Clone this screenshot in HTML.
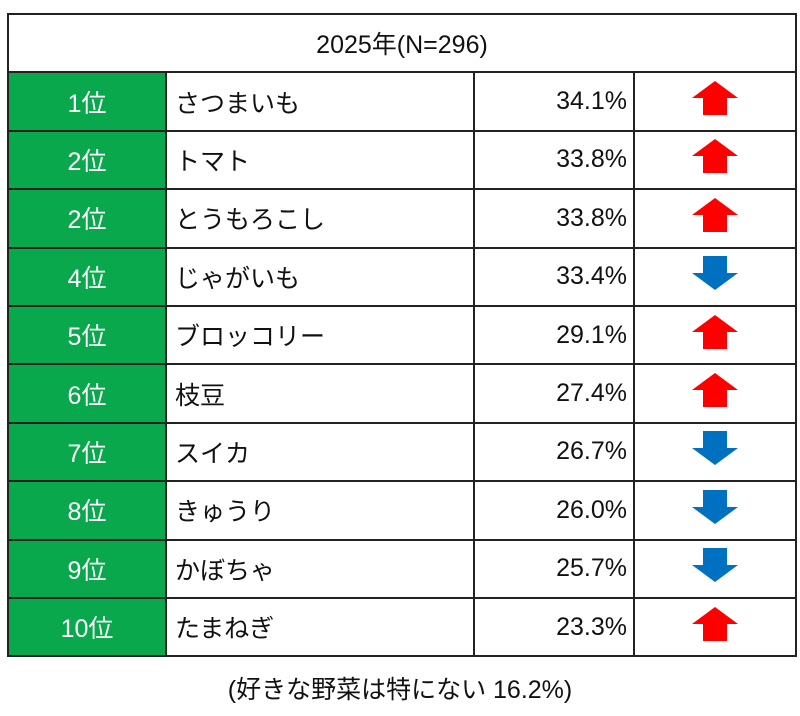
<!DOCTYPE html>
<html><head><meta charset="utf-8"><style>
body{margin:0;width:800px;height:716px;background:#fff;font-family:"Liberation Sans Narrow","Liberation Sans","Noto Sans CJK JP",sans-serif;}
table{position:absolute;left:7px;top:13px;border-collapse:collapse;width:790px;}
td{border:2px solid #222;height:56.4px;box-sizing:border-box;padding:0;font-size:25px;color:#111;}
tr{height:58.4px;}
.h td{height:58px;text-align:center;}
.r{background:#0aa84c;color:#fff;text-align:center;width:158px;}
.n{padding-left:8px;width:308px;}
.p{text-align:right;padding-right:6px;width:160px;}
.a{text-align:center;}
.foot{position:absolute;top:670px;left:0;width:800px;text-align:center;font-size:25px;color:#111;}
</style></head><body>
<table>
<tr class="h"><td colspan="4">2025年(N=296)</td></tr>
<tr><td class="r">1位</td><td class="n">さつまいも</td><td class="p">34.1%</td><td class="a"><svg width="46" height="34"><polygon points="23,0 46,17 35,17 35,34 11,34 11,17 0,17" fill="#f00"/></svg></td></tr>
<tr><td class="r">2位</td><td class="n">トマト</td><td class="p">33.8%</td><td class="a"><svg width="46" height="34"><polygon points="23,0 46,17 35,17 35,34 11,34 11,17 0,17" fill="#f00"/></svg></td></tr>
<tr><td class="r">2位</td><td class="n">とうもろこし</td><td class="p">33.8%</td><td class="a"><svg width="46" height="34"><polygon points="23,0 46,17 35,17 35,34 11,34 11,17 0,17" fill="#f00"/></svg></td></tr>
<tr><td class="r">4位</td><td class="n">じゃがいも</td><td class="p">33.4%</td><td class="a"><svg width="46" height="34"><polygon points="11,0 35,0 35,17 46,17 23,34 0,17 11,17" fill="#0070c0"/></svg></td></tr>
<tr><td class="r">5位</td><td class="n">ブロッコリー</td><td class="p">29.1%</td><td class="a"><svg width="46" height="34"><polygon points="23,0 46,17 35,17 35,34 11,34 11,17 0,17" fill="#f00"/></svg></td></tr>
<tr><td class="r">6位</td><td class="n">枝豆</td><td class="p">27.4%</td><td class="a"><svg width="46" height="34"><polygon points="23,0 46,17 35,17 35,34 11,34 11,17 0,17" fill="#f00"/></svg></td></tr>
<tr><td class="r">7位</td><td class="n">スイカ</td><td class="p">26.7%</td><td class="a"><svg width="46" height="34"><polygon points="11,0 35,0 35,17 46,17 23,34 0,17 11,17" fill="#0070c0"/></svg></td></tr>
<tr><td class="r">8位</td><td class="n">きゅうり</td><td class="p">26.0%</td><td class="a"><svg width="46" height="34"><polygon points="11,0 35,0 35,17 46,17 23,34 0,17 11,17" fill="#0070c0"/></svg></td></tr>
<tr><td class="r">9位</td><td class="n">かぼちゃ</td><td class="p">25.7%</td><td class="a"><svg width="46" height="34"><polygon points="11,0 35,0 35,17 46,17 23,34 0,17 11,17" fill="#0070c0"/></svg></td></tr>
<tr><td class="r">10位</td><td class="n">たまねぎ</td><td class="p">23.3%</td><td class="a"><svg width="46" height="34"><polygon points="23,0 46,17 35,17 35,34 11,34 11,17 0,17" fill="#f00"/></svg></td></tr>
</table>
<div class="foot">(好きな野菜は特にない 16.2%)</div>
</body></html>
